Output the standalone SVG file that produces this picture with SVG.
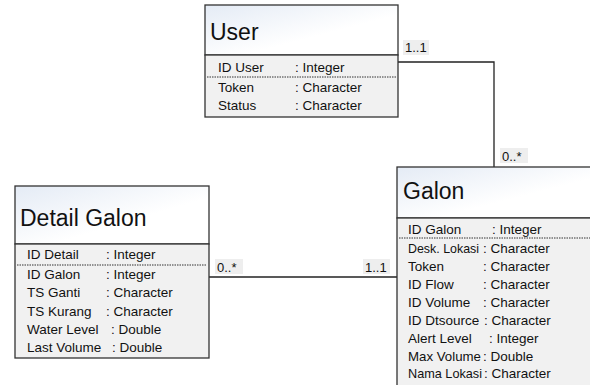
<svg xmlns="http://www.w3.org/2000/svg" width="590" height="385" viewBox="0 0 590 385">
<defs>
<linearGradient id="hdr" x1="0" y1="0" x2="1" y2="1">
<stop offset="0" stop-color="#e4ebf5"/>
<stop offset="0.6" stop-color="#ffffff"/>
</linearGradient>
<style>
.box{stroke:#333;stroke-width:1.3;}
.head{fill:url(#hdr);}
.body{fill:#f1f1f1;}
.title{font-family:"Liberation Sans",Arial,sans-serif;font-size:23px;fill:#111;}
.attr{font-family:"Liberation Sans",Arial,sans-serif;font-size:13.5px;fill:#111;}
.dot{stroke:#333;stroke-width:1;stroke-dasharray:1.5 1;}
.conn{fill:none;stroke:#222;stroke-width:1.3;}
.lbl{font-family:"Liberation Sans",Arial,sans-serif;font-size:13px;fill:#111;}
.lblbg{fill:#eeeeee;}
</style>
</defs>
<rect width="590" height="385" fill="#ffffff"/>
<g id="connectors">
<polyline class="conn" points="398,62 494,62 494,167"/>
<line class="conn" x1="209" y1="277" x2="397" y2="277"/>
<rect class="lblbg" x="403" y="40" width="26" height="15"/>
<text class="lbl" x="405" y="52">1..1</text>
<rect class="lblbg" x="500" y="148" width="28" height="15"/>
<text class="lbl" x="502" y="161">0..*</text>
<rect class="lblbg" x="215" y="259" width="28" height="15"/>
<text class="lbl" x="217" y="272">0..*</text>
<rect class="lblbg" x="363" y="259" width="27" height="15"/>
<text class="lbl" x="365" y="272">1..1</text>
</g>
<g id="user">
<rect class="box head" x="205" y="5" width="193" height="50"/>
<rect class="box body" x="205" y="55" width="193" height="62"/>
<text class="title" x="210" y="40">User</text>
<text class="attr" x="218" y="72">ID User</text><text class="attr" x="295" y="72">: Integer</text>
<line class="dot" x1="207" y1="77" x2="396" y2="77"/>
<text class="attr" x="218" y="92">Token</text><text class="attr" x="295" y="92">: Character</text>
<text class="attr" x="218" y="110">Status</text><text class="attr" x="295" y="110">: Character</text>
</g>
<g id="detail-galon">
<rect class="box head" x="15" y="186" width="194" height="58"/>
<rect class="box body" x="15" y="244" width="194" height="114"/>
<text class="title" x="20" y="226">Detail Galon</text>
<text class="attr" x="27" y="259">ID Detail</text><text class="attr" x="106" y="259">: Integer</text>
<line class="dot" x1="17" y1="265" x2="207" y2="265"/>
<text class="attr" x="27" y="279">ID Galon</text><text class="attr" x="106" y="279">: Integer</text>
<text class="attr" x="27" y="297">TS Ganti</text><text class="attr" x="106" y="297">: Character</text>
<text class="attr" x="27" y="316">TS Kurang</text><text class="attr" x="106" y="316">: Character</text>
<text class="attr" x="27" y="334">Water Level</text><text class="attr" x="111" y="334">: Double</text>
<text class="attr" x="27" y="352">Last Volume</text><text class="attr" x="112" y="352">: Double</text>
</g>
<g id="galon">
<rect class="box head" x="397" y="167" width="200" height="51"/>
<rect class="box body" x="397" y="218" width="200" height="180"/>
<text class="title" x="403" y="199">Galon</text>
<text class="attr" x="408" y="234">ID Galon</text><text class="attr" x="492" y="234">: Integer</text>
<line class="dot" x1="399" y1="238" x2="590" y2="238"/>
<text class="attr" x="408" y="253" textLength="71" lengthAdjust="spacingAndGlyphs">Desk. Lokasi</text><text class="attr" x="483" y="253">: Character</text>
<text class="attr" x="408" y="271">Token</text><text class="attr" x="483" y="271">: Character</text>
<text class="attr" x="408" y="289">ID Flow</text><text class="attr" x="483" y="289">: Character</text>
<text class="attr" x="408" y="307">ID Volume</text><text class="attr" x="483" y="307">: Character</text>
<text class="attr" x="408" y="325">ID Dtsource</text><text class="attr" x="484" y="325">: Character</text>
<text class="attr" x="408" y="343">Alert Level</text><text class="attr" x="489" y="343">: Integer</text>
<text class="attr" x="408" y="361" textLength="73" lengthAdjust="spacingAndGlyphs">Max Volume</text><text class="attr" x="483" y="361">: Double</text>
<text class="attr" x="408" y="378" textLength="74" lengthAdjust="spacingAndGlyphs">Nama Lokasi</text><text class="attr" x="484" y="378">: Character</text>
</g>
</svg>
